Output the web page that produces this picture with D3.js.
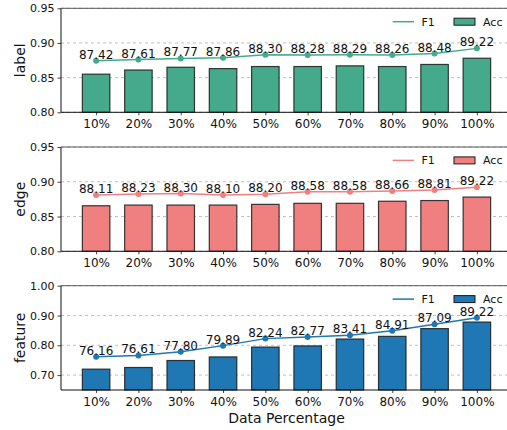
<!DOCTYPE html>
<html>
<head>
<meta charset="utf-8">
<script src="https://cdn.jsdelivr.net/npm/d3@7"></script>
<style>
  body { margin: 0; background: #fff; }
  svg { font-family: "DejaVu Sans", sans-serif; }
</style>
</head>
<body>
<div id="chart"></div>
<script>
// data
var categories = ["10%", "20%", "30%", "40%", "50%", "60%", "70%", "80%", "90%", "100%"];

var labelF1  = [87.42, 87.61, 87.77, 87.86, 88.30, 88.28, 88.29, 88.26, 88.48, 89.22];
var labelAcc = [0.855, 0.861, 0.865, 0.863, 0.866, 0.866, 0.867, 0.866, 0.869, 0.878];

var edgeF1  = [88.11, 88.23, 88.30, 88.10, 88.20, 88.58, 88.58, 88.66, 88.81, 89.22];
var edgeAcc = [0.8655, 0.8665, 0.8665, 0.8665, 0.8675, 0.869, 0.869, 0.872, 0.873, 0.878];

var featureF1  = [76.16, 76.61, 77.80, 79.89, 82.24, 82.77, 83.41, 84.91, 87.09, 89.22];
var featureAcc = [0.720, 0.7255, 0.749, 0.761, 0.794, 0.798, 0.821, 0.830, 0.856, 0.878];

var labelTicks = [0.80, 0.85, 0.90, 0.95];
var edgeTicks = [0.80, 0.85, 0.90, 0.95];
var featureTicks = [0.70, 0.80, 0.90, 1.00];

var panels = [
    {name: "label", f1: labelF1, acc: labelAcc, ticks: labelTicks, dom: [0.80, 0.95],
     color: "#44aa8b", top: 8.3, bottom: 112.3},
    {name: "edge", f1: edgeF1, acc: edgeAcc, ticks: edgeTicks, dom: [0.80, 0.95],
     color: "#f08080", top: 147, bottom: 251.3},
    {name: "feature", f1: featureF1, acc: featureAcc, ticks: featureTicks, dom: [0.65, 1.00],
     color: "#1f77b4", top: 285.7, bottom: 390}
];

var width = 507, height = 430;
var left = 61, right = 512;

var svg = d3.select('#chart').append('svg')
    .attr('width', width)
    .attr('height', height);

var x = d3.scaleLinear().domain([-0.83, 9.83]).range([left, right]);
var barW = x(0.65) - x(0);

panels.forEach(function(p) {
    var y = d3.scaleLinear().domain(p.dom).range([p.bottom, p.top]);
    var g = svg.append('g');

    // grid
    g.selectAll('line.grid').data(p.ticks).enter().append('line')
        .attr('x1', left).attr('x2', right)
        .attr('y1', function(d) { return y(d); })
        .attr('y2', function(d) { return y(d); })
        .attr('stroke', '#b0b0b0')
        .attr('stroke-width', 0.8)
        .attr('stroke-dasharray', '3,3');

    // bars
    g.selectAll('rect').data(p.acc).enter().append('rect')
        .attr('x', function(d, i) { return x(i) - barW / 2; })
        .attr('y', function(d) { return y(d); })
        .attr('width', barW)
        .attr('height', function(d) { return p.bottom - y(d); })
        .attr('fill', p.color)
        .attr('stroke', '#1a1a1a')
        .attr('stroke-opacity', 0.85)
        .attr('stroke-width', 1.2);

    // F1 line
    var line = d3.line()
        .x(function(d, i) { return x(i); })
        .y(function(d) { return y(d / 100); });
    g.append('path').datum(p.f1)
        .attr('d', line)
        .attr('fill', 'none')
        .attr('stroke', p.color)
        .attr('stroke-width', 1.5);
    g.selectAll('circle').data(p.f1).enter().append('circle')
        .attr('cx', function(d, i) { return x(i); })
        .attr('cy', function(d) { return y(d / 100); })
        .attr('r', 3)
        .attr('fill', p.color);

    // value labels
    g.selectAll('text.val').data(p.f1).enter().append('text')
        .attr('class', 'val')
        .attr('x', function(d, i) { return x(i); })
        .attr('y', function(d) { return y(d / 100) - 2; })
        .attr('text-anchor', 'middle')
        .attr('font-size', 12)
        .attr('fill', '#111')
        .text(function(d) { return d.toFixed(2); });

    // axes
    var yAxis = d3.axisLeft(y).tickValues(p.ticks).tickFormat(d3.format('.2f')).tickSize(3.5).tickPadding(3);
    var ya = g.append('g').attr('transform', 'translate(' + left + ',0)').call(yAxis);
    ya.select('.domain').remove();
    ya.selectAll('text').attr('font-size', 11).attr('fill', '#111').attr('font-family', '"DejaVu Sans", sans-serif');
    ya.selectAll('line').attr('stroke', '#111').attr('stroke-width', 0.8);

    var xAxis = d3.axisBottom(x).tickValues(d3.range(categories.length))
        .tickFormat(function(i) { return categories[i]; }).tickSize(3).tickPadding(4);
    var xa = g.append('g').attr('transform', 'translate(0,' + p.bottom + ')').call(xAxis);
    xa.select('.domain').remove();
    xa.selectAll('text').attr('font-size', 12).attr('fill', '#111').attr('font-family', '"DejaVu Sans", sans-serif');
    xa.selectAll('line').attr('stroke', '#111').attr('stroke-width', 0.8);

    // spines
    g.append('line').attr('x1', left).attr('x2', left).attr('y1', p.top).attr('y2', p.bottom)
        .attr('stroke', '#111').attr('stroke-width', 1);
    g.append('line').attr('x1', left).attr('x2', right).attr('y1', p.bottom).attr('y2', p.bottom)
        .attr('stroke', '#111').attr('stroke-width', 1);
    g.append('line').attr('x1', left).attr('x2', right).attr('y1', p.top).attr('y2', p.top)
        .attr('stroke', '#555').attr('stroke-width', 1);

    // y label
    g.append('text')
        .attr('transform', 'translate(25,' + ((p.top + p.bottom) / 2) + ') rotate(-90)')
        .attr('text-anchor', 'middle')
        .attr('font-size', 14)
        .attr('fill', '#111')
        .text(p.name);

    // legend
    var ly = p.top + 13.4;
    g.append('line').attr('x1', 392.7).attr('x2', 414).attr('y1', ly).attr('y2', ly)
        .attr('stroke', p.color).attr('stroke-width', 1.5);
    g.append('text').attr('x', 421.5).attr('y', ly + 4).attr('font-size', 11).attr('fill', '#111').text('F1');
    g.append('rect').attr('x', 454).attr('y', ly - 3.5).attr('width', 21).attr('height', 7)
        .attr('fill', p.color).attr('stroke', '#1a1a1a').attr('stroke-width', 1);
    g.append('text').attr('x', 483).attr('y', ly + 4).attr('font-size', 11).attr('fill', '#111').text('Acc');
});

svg.append('text')
    .attr('x', (left + right) / 2)
    .attr('y', 423)
    .attr('text-anchor', 'middle')
    .attr('font-size', 14)
    .attr('fill', '#111')
    .text('Data Percentage');
</script>
</body>
</html>
